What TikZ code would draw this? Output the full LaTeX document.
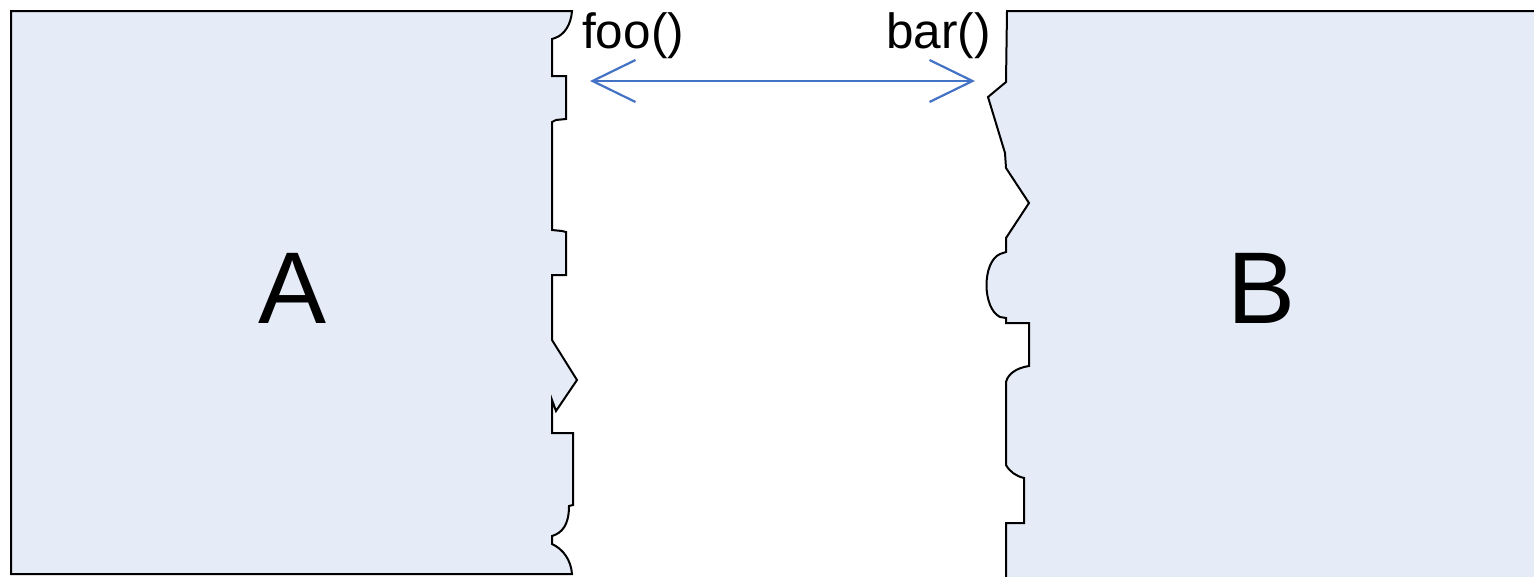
\documentclass[tikz,border=0pt]{standalone}
\usepackage{fontspec}
\setmainfont{Liberation Sans}
\usetikzlibrary{arrows.meta}
\definecolor{boxfill}{RGB}{230,236,247}
\definecolor{arrowblue}{RGB}{68,114,196}
\tikzset{
  piece/.style={draw=black, line width=2pt, fill=boxfill, line join=miter},
  biglabel/.style={font=\fontsize{102}{110}\selectfont, inner sep=0pt},
  calllabel/.style={font=\fontsize{49.5}{54}\selectfont, inner sep=0pt, anchor=base west},
  callarrow/.style={draw=arrowblue, line width=2.2pt, {Straight Barb[length=43pt,width=42pt,line width=2.2pt]}-{Straight Barb[length=43pt,width=42pt,line width=2.2pt]}}
}
\begin{document}
\begin{tikzpicture}[x=1pt,y=-1pt]
\useasboundingbox (0,0) rectangle (1534,576);
% piece A
\path[piece] (11,11) -- (572,11)
  .. controls (571,25) and (564,35) .. (555,38) -- (552,39)
  -- (552,76) -- (566,76) -- (566,119) -- (556,120) -- (552,122)
  -- (552,230) -- (562,231) -- (566,232) -- (566,275) -- (552,275)
  -- (552,340) -- (577,380) -- (556,411) -- (552,400) -- (552,433)
  -- (573,433) -- (573,505) -- (569,506)
  .. controls (569,525) and (562,533) .. (552,536) -- (552,544)
  .. controls (563,549) and (571,560) .. (572,574)
  -- (11,574) -- cycle;
% piece B
\path[piece] (1540,11) -- (1007,11) -- (1006,82) -- (988,97) -- (1005,153)
  -- (1006,168) -- (1029,203) -- (1006,238) -- (1006,252) -- (1000,254)
  .. controls (982,262) and (982,308) .. (1000,317) -- (1006,318)
  -- (1006,323) -- (1029,323) -- (1029,366)
  .. controls (1016,368) and (1008,374) .. (1006,382)
  -- (1006,465) .. controls (1010,472) and (1016,476) .. (1024,478)
  -- (1024,523) -- (1006,523) -- (1006,580) -- (1540,580);
\node[biglabel] (A) at (293,288) {A};
\node[biglabel] (B) at (1262,288) {B};
\node[calllabel] (foo) at (582,48) {foo()};
\node[calllabel] (bar) at (886,48) {bar()};
\coordinate (left) at (590,81);
\coordinate (right) at (975,81);
\draw[callarrow] (left) -- (right);
\end{tikzpicture}
\end{document}
